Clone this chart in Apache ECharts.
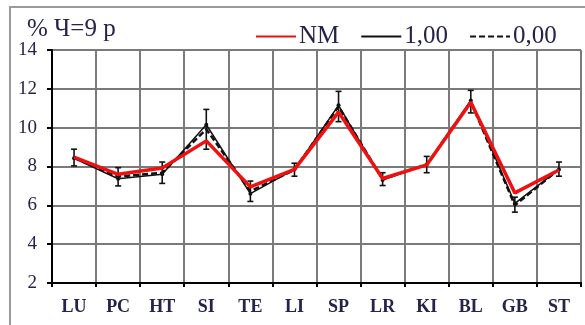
<!DOCTYPE html>
<html>
<head>
<meta charset="utf-8">
<script src="https://cdn.jsdelivr.net/npm/echarts@6/dist/echarts.min.js"></script>
<style>
  html, body { margin: 0; padding: 0; background: #fff; }
  #chart { width: 585px; height: 325px; }
</style>
</head>
<body>
<div id="chart"></div>
<script>
// Categories along the x axis
const categories = ['LU', 'PC', 'HT', 'SI', 'TE', 'LI', 'SP', 'LR', 'KI', 'BL', 'GB', 'ST'];

// Series values (%)
const seriesNM = [8.48, 7.60, 7.92, 9.32, 6.95, 7.85, 10.80, 7.38, 8.08, 11.31, 6.64, 7.82];
const series100 = [8.42, 7.37, 7.60, 10.15, 6.60, 7.85, 11.15, 7.30, 8.10, 11.40, 6.10, 7.85];
const series000 = [8.45, 7.48, 7.68, 9.92, 6.72, 7.83, 11.09, 7.35, 8.10, 11.34, 6.00, 7.86];

// Error bar ranges
const errLow = [8.03, 7.00, 7.13, 8.89, 6.20, 7.50, 10.31, 7.02, 7.68, 10.76, 5.65, 7.50];
const errHigh = [8.89, 7.94, 8.23, 10.94, 7.25, 8.17, 11.87, 7.68, 8.52, 11.92, 6.42, 8.23];

// Y axis ticks
const yTicks = [2, 4, 6, 8, 10, 12, 14];

const serif = '"Liberation Serif", "DejaVu Serif", serif';
const textColor = '#24244a';

const errData = categories.map((c, i) => [i, errLow[i], errHigh[i]]);

const chart = echarts.init(document.getElementById('chart'), null, { renderer: 'canvas' });

chart.setOption({
  animation: false,
  backgroundColor: '#fff',
  graphic: [
    {
      type: 'rect',
      shape: { x: 10, y: 7, width: 600, height: 340 },
      style: { fill: 'none', stroke: '#9a9a9a', lineWidth: 2 },
      silent: true
    },
    {
      type: 'text',
      left: 27,
      top: 17,
      style: { text: '% Ч=9 р', fontFamily: serif, fontSize: 25, fill: textColor }
    }
  ],
  legend: {
    top: 19,
    left: 250,
    itemWidth: 40,
    itemHeight: 14,
    itemGap: 21,
    itemStyle: { opacity: 0 },
    textStyle: { fontFamily: serif, fontSize: 25, color: textColor, padding: [0, 0, 0, -2] },
    data: ['NM', '1,00', '0,00']
  },
  grid: { left: 52, right: 4, top: 50, bottom: 42 },
  xAxis: {
    type: 'category',
    data: categories,
    boundaryGap: true,
    axisLine: { lineStyle: { color: '#000', width: 2 } },
    axisTick: { show: true, length: 4, lineStyle: { color: '#000', width: 2 } },
    axisLabel: { fontFamily: serif, fontSize: 18, fontWeight: 'bold', color: textColor, margin: 15 },
    splitLine: { show: true, lineStyle: { color: '#7a7a7a', width: 2 } }
  },
  yAxis: {
    type: 'value',
    min: yTicks[0],
    max: yTicks[yTicks.length - 1],
    interval: 2,
    axisLine: { show: true, lineStyle: { color: '#000', width: 2 } },
    axisTick: { show: true, length: 5, lineStyle: { color: '#000', width: 2 } },
    axisLabel: { fontFamily: serif, fontSize: 19, color: textColor, margin: 15 },
    splitLine: { show: true, lineStyle: { color: '#7a7a7a', width: 2 } }
  },
  series: [
    {
      name: 'errors',
      type: 'custom',
      z: 3,
      data: errData,
      encode: { x: 0, y: [1, 2] },
      renderItem: function (params, api) {
        const idx = api.value(0);
        const lo = api.coord([idx, api.value(1)]);
        const hi = api.coord([idx, api.value(2)]);
        const half = 3;
        const st = { stroke: '#111', lineWidth: 1.6 };
        return {
          type: 'group',
          children: [
            { type: 'line', shape: { x1: lo[0], y1: lo[1], x2: hi[0], y2: hi[1] }, style: st },
            { type: 'line', shape: { x1: lo[0] - half, y1: lo[1], x2: lo[0] + half, y2: lo[1] }, style: st },
            { type: 'line', shape: { x1: hi[0] - half, y1: hi[1], x2: hi[0] + half, y2: hi[1] }, style: st }
          ]
        };
      }
    },
    {
      name: '0,00',
      type: 'line',
      z: 4,
      data: series000,
      symbol: 'none',
      lineStyle: { color: '#111', width: 2.5, type: [6, 3] },
      itemStyle: { color: '#111' }
    },
    {
      name: '1,00',
      type: 'line',
      z: 5,
      data: series100,
      symbol: 'circle',
      symbolSize: 4,
      showSymbol: true,
      lineStyle: { color: '#111', width: 1.5 },
      itemStyle: { color: '#111' }
    },
    {
      name: 'NM',
      type: 'line',
      z: 6,
      data: seriesNM,
      symbol: 'none',
      lineStyle: { color: '#f01010', width: 3.5 },
      itemStyle: { color: '#f01010' }
    }
  ]
});
</script>
</body>
</html>
